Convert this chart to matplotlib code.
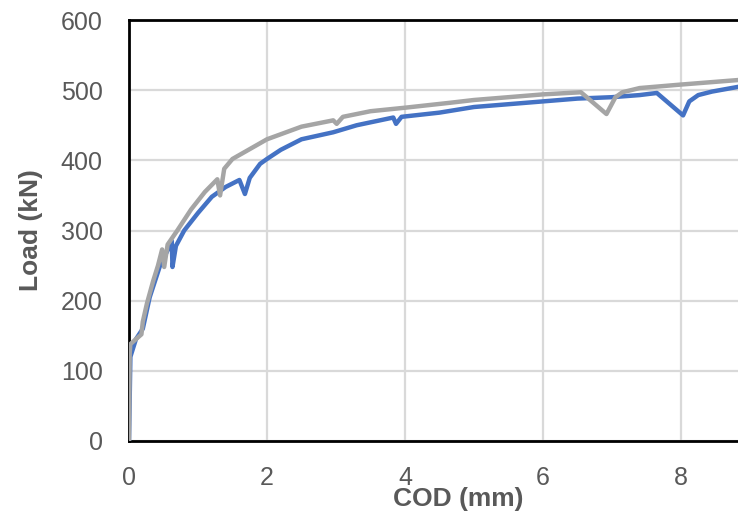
import matplotlib.pyplot as plt

plt.rcParams['font.family'] = ['Liberation Sans', 'DejaVu Sans']

# COD (mm) / Load (kN)
cod_blue = [0, 0.02, 0.1, 0.2, 0.3, 0.45, 0.55, 0.62, 0.63, 0.68, 0.8, 1.0,
            1.2, 1.4, 1.6, 1.68, 1.75, 1.9, 2.0, 2.2, 2.5, 2.96, 3.3, 3.83,
            3.87, 3.95, 4.5, 5.0, 6.0, 6.5, 7.0, 7.4, 7.65, 8.03, 8.12, 8.25,
            8.45, 8.9]
load_blue = [0, 120, 145, 160, 205, 250, 270, 285, 248, 278, 300, 325,
             348, 362, 372, 352, 375, 395, 402, 415, 430, 440, 450, 461,
             452, 462, 468, 476, 484, 488, 490, 493, 496, 464, 484, 493,
             498, 506]

cod_gray = [0, 0.01, 0.02, 0.11, 0.18, 0.2, 0.26, 0.35, 0.42, 0.48, 0.51,
            0.56, 0.7, 0.9, 1.1, 1.28, 1.32, 1.38, 1.5, 1.75, 2.0, 2.5, 2.96,
            3.01, 3.1, 3.5, 4.0, 4.65, 5.0, 5.5, 6.0, 6.55, 6.92, 7.05, 7.15,
            7.4, 8.0, 8.9]
load_gray = [0, 125, 138, 146, 152, 170, 196, 228, 250, 273, 248,
             280, 300, 330, 355, 373, 350, 388, 402, 416, 430, 448, 457,
             452, 462, 470, 475, 482, 486, 490, 494, 497, 466, 490, 497,
             503, 508, 515]

x_ticks = [0, 2, 4, 6, 8]
y_ticks = [0, 100, 200, 300, 400, 500, 600]

txt = '#595959'
fig = plt.figure(figsize=(7.38, 5.15), dpi=100)
ax = fig.add_axes([129/738, 74/515, 690/738, 421/515])

ax.plot(cod_blue, load_blue, color='#4472C4', lw=3.2, solid_joinstyle='round', zorder=3)
ax.plot(cod_gray, load_gray, color='#A5A5A5', lw=3.2, solid_joinstyle='round', zorder=4)

ax.set_xlim(0, 10)
ax.set_ylim(0, 600)
ax.set_xticks(x_ticks)
ax.set_yticks(y_ticks)
ax.grid(True, color='#d9d9d9', lw=1.6)
ax.set_axisbelow(True)
for s in ['left', 'bottom', 'top']:
    ax.spines[s].set_linewidth(2)
    ax.spines[s].set_color('black')
ax.spines['right'].set_visible(False)
ax.tick_params(length=0, labelsize=18, labelcolor=txt)
ax.tick_params(axis='y', pad=19)
ax.tick_params(axis='x', pad=18)

ax.set_xlabel('COD (mm)', fontsize=19, fontweight='bold', color=txt)
ax.set_ylabel('Load (kN)', fontsize=19, fontweight='bold', color=txt)
ax.xaxis.set_label_coords((458 - 129) / 690, -(499 - 441) / 421, transform=ax.transAxes)
ax.xaxis.label.set_va('center')
ax.yaxis.set_label_coords(-(129 - 31) / 690, 0.5)
ax.yaxis.label.set_va('center')

fig.savefig('out.png', dpi=100)
